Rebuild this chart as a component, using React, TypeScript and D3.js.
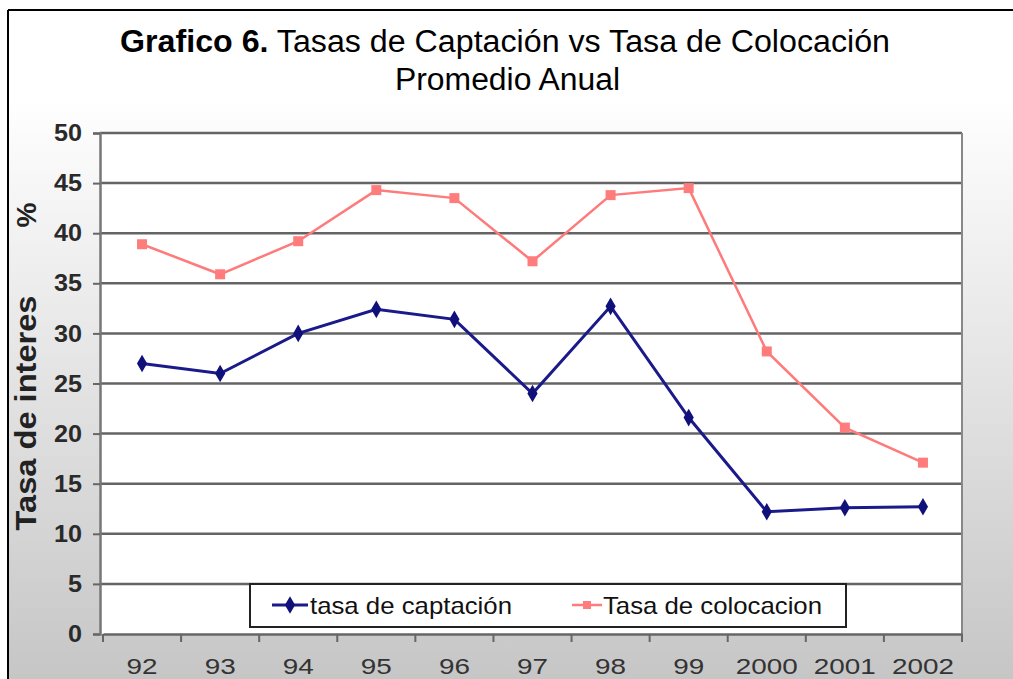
import React, { useEffect, useRef } from "react";
import * as d3 from "d3";

const years = ["92", "93", "94", "95", "96", "97", "98", "99", "2000", "2001", "2002"];
const captacion = [27, 26, 30, 32.4, 31.4, 24, 32.7, 21.6, 12.2, 12.6, 12.7];
const colocacion = [38.9, 35.9, 39.2, 44.3, 43.5, 37.2, 43.8, 44.5, 28.2, 20.6, 17.1];
const yTicks = [0, 5, 10, 15, 20, 25, 30, 35, 40, 45, 50];

const W = 1013, H = 679;
const plot = { left: 100, right: 962, top: 133, bottom: 634 };
const font = "'Liberation Sans', Arial, sans-serif";

const App = () => {
  const svgRef = useRef<SVGSVGElement>(null);

  useEffect(() => {
    const svg = d3.select(svgRef.current);
    svg.selectAll("*").remove();

    const defs = svg.append("defs");
    const grad = defs.append("linearGradient").attr("id", "bg").attr("x1", 0).attr("y1", 0).attr("x2", 0).attr("y2", 1);
    grad.append("stop").attr("offset", "0%").attr("stop-color", "#ffffff");
    grad.append("stop").attr("offset", "100%").attr("stop-color", "#c6c6c6");

    svg.append("rect").attr("width", W).attr("height", H).attr("fill", "#fff");
    svg.append("rect").attr("x", 9).attr("y", 98).attr("width", W - 9).attr("height", H - 98).attr("fill", "url(#bg)");

    // frame
    svg.append("line").attr("x1", 8).attr("x2", W).attr("y1", 10).attr("y2", 10).attr("stroke", "#000").attr("stroke-width", 2);
    svg.append("line").attr("x1", 8).attr("x2", 8).attr("y1", 10).attr("y2", H).attr("stroke", "#000").attr("stroke-width", 2);

    // title
    const t = svg.append("text").attr("x", 120).attr("y", 52)
      .attr("font-family", font).attr("font-size", 31).attr("fill", "#000")
      .attr("textLength", 770).attr("lengthAdjust", "spacingAndGlyphs");
    t.append("tspan").attr("font-weight", "bold").text("Grafico 6.");
    t.append("tspan").text(" Tasas de Captación vs Tasa de Colocación");
    svg.append("text").attr("x", 395).attr("y", 90)
      .attr("font-family", font).attr("font-size", 31).attr("fill", "#000")
      .attr("textLength", 225).attr("lengthAdjust", "spacingAndGlyphs").text("Promedio Anual");

    const x = d3.scaleBand().domain(years).range([plot.left + 3, plot.right]);
    const y = d3.scaleLinear().domain([0, 50]).range([plot.bottom, plot.top]);

    svg.append("rect").attr("x", plot.left).attr("y", plot.top)
      .attr("width", plot.right - plot.left).attr("height", plot.bottom - plot.top).attr("fill", "#fff");

    // gridlines
    svg.append("g").selectAll("line").data(yTicks.filter(d => d > 0)).join("line")
      .attr("x1", plot.left).attr("x2", plot.right)
      .attr("y1", d => y(d)).attr("y2", d => y(d))
      .attr("stroke", "#4a4a4a").attr("stroke-width", 2.5).attr("opacity", 0.85);
    svg.append("line").attr("x1", plot.right).attr("x2", plot.right).attr("y1", plot.top).attr("y2", plot.bottom)
      .attr("stroke", "#888").attr("stroke-width", 2);

    // y axis
    const ya = svg.append("g").attr("transform", `translate(${plot.left},0)`)
      .call(d3.axisLeft(y).tickValues(yTicks).tickSize(7).tickPadding(11));
    ya.select(".domain").attr("stroke", "#777").attr("stroke-width", 2.5);
    ya.selectAll(".tick line").attr("stroke", "#666").attr("stroke-width", 2);
    ya.selectAll<SVGTextElement, number>(".tick text").attr("font-family", font).attr("font-size", 24)
      .attr("font-weight", "bold").attr("fill", "#2a2a2a")
      .attr("textLength", d => String(d).length * 14).attr("lengthAdjust", "spacingAndGlyphs");

    // x axis
    const xa = svg.append("g").attr("transform", `translate(0,${plot.bottom})`)
      .call(d3.axisBottom(x).tickSize(0).tickPadding(26));
    xa.select(".domain").attr("stroke", "#666").attr("stroke-width", 2.5);
    xa.selectAll<SVGTextElement, string>(".tick text").attr("font-family", font).attr("font-size", 22).attr("fill", "#333")
      .attr("y", 24).attr("textLength", d => d.length * 15.5).attr("lengthAdjust", "spacingAndGlyphs");
    svg.append("g").selectAll("line").data(d3.range(years.length + 1)).join("line")
      .attr("x1", i => (x(years[Math.min(i, years.length - 1)]) as number) + (i === years.length ? x.bandwidth() : 0))
      .attr("x2", i => (x(years[Math.min(i, years.length - 1)]) as number) + (i === years.length ? x.bandwidth() : 0))
      .attr("y1", plot.bottom).attr("y2", plot.bottom + 8)
      .attr("stroke", "#666").attr("stroke-width", 2);

    // axis label
    svg.append("text").attr("transform", "translate(36,413) rotate(-90)").attr("text-anchor", "middle")
      .attr("font-family", font).attr("font-size", 30).attr("font-weight", "bold").attr("fill", "#222")
      .attr("textLength", 235).attr("lengthAdjust", "spacingAndGlyphs")
      .text("Tasa de interes");
    svg.append("text").attr("transform", "translate(36,215) rotate(-90)").attr("text-anchor", "middle")
      .attr("font-family", font).attr("font-size", 28).attr("font-weight", "bold").attr("fill", "#222")
      .text("%");

    const cx = (d: string) => (x(d) as number) + x.bandwidth() / 2;
    const line = d3.line<number>().x((_, i) => cx(years[i])).y(d => y(d));

    svg.append("path").datum(colocacion).attr("d", line).attr("fill", "none")
      .attr("stroke", "#ff7a7a").attr("stroke-width", 2.5);
    svg.append("g").selectAll("rect").data(colocacion).join("rect")
      .attr("x", (_, i) => cx(years[i]) - 5).attr("y", d => y(d) - 5)
      .attr("width", 10).attr("height", 10).attr("fill", "#ff7c7c");

    svg.append("path").datum(captacion).attr("d", line).attr("fill", "none")
      .attr("stroke", "#1a1a8a").attr("stroke-width", 3);
    svg.append("g").selectAll("path.m").data(captacion).join("path")
      .attr("d", d3.symbol(d3.symbolDiamond, 90))
      .attr("transform", (d, i) => `translate(${cx(years[i])},${y(d)})`)
      .attr("fill", "#10107a");

    // legend
    const lg = svg.append("g");
    lg.append("rect").attr("x", 250).attr("y", 584).attr("width", 596).attr("height", 43)
      .attr("fill", "#fff").attr("stroke", "#222").attr("stroke-width", 2);
    lg.append("line").attr("x1", 272).attr("x2", 308).attr("y1", 605).attr("y2", 605).attr("stroke", "#1a1a8a").attr("stroke-width", 3);
    lg.append("path").attr("d", d3.symbol(d3.symbolDiamond, 90)).attr("transform", "translate(290,605)").attr("fill", "#10107a");
    lg.append("text").attr("x", 310).attr("y", 614).attr("font-family", font).attr("font-size", 24)
      .attr("fill", "#111").attr("textLength", 202).attr("lengthAdjust", "spacingAndGlyphs").text("tasa de captación");
    lg.append("line").attr("x1", 572).attr("x2", 602).attr("y1", 605).attr("y2", 605).attr("stroke", "#ff7a7a").attr("stroke-width", 2.5);
    lg.append("rect").attr("x", 583).attr("y", 601).attr("width", 8).attr("height", 8).attr("fill", "#ff7c7c");
    lg.append("text").attr("x", 603).attr("y", 614).attr("font-family", font).attr("font-size", 24)
      .attr("fill", "#111").attr("textLength", 219).attr("lengthAdjust", "spacingAndGlyphs").text("Tasa de colocacion");
  }, []);

  return <svg ref={svgRef} width={W} height={H} style={{ position: "absolute", left: 0, top: 0 }} />;
};

export default App;
